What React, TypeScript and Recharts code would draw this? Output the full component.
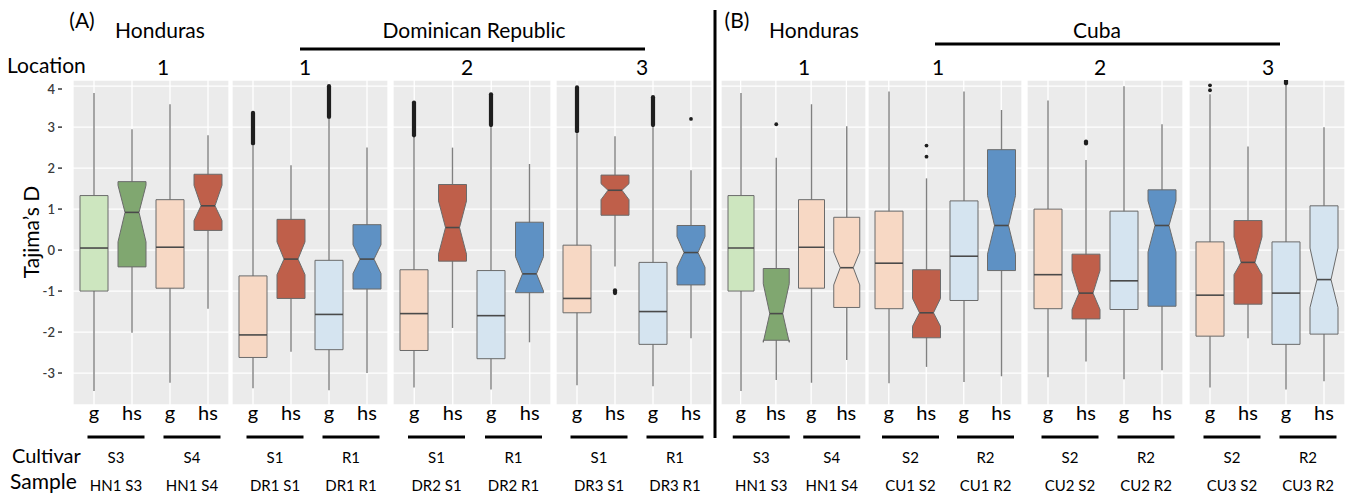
import React from "react";
import { ComposedChart, Bar, XAxis, YAxis, CartesianGrid } from "recharts";

type Box = {
  key: string;
  low: number;
  q1: number;
  med: number;
  q3: number;
  high: number;
  notch?: [number, number];
  out?: [number, number][];
};

const Y_TICKS = [-3, -2, -1, 0, 1, 2, 3, 4];
const Y_DOMAIN: [number, number] = [-3.78, 4.15];
const TREATMENTS = ["g", "hs", "g", "hs"];
const LOCATIONS = ["1", "1", "2", "3", "1", "1", "2", "3"];
const CULTIVARS = [
  ["S3", "S4"], ["S1", "R1"], ["S1", "R1"], ["S1", "R1"],
  ["S3", "S4"], ["S2", "R2"], ["S2", "R2"], ["S2", "R2"],
];
const SAMPLES = [
  ["HN1 S3", "HN1 S4"], ["DR1 S1", "DR1 R1"], ["DR2 S1", "DR2 R1"], ["DR3 S1", "DR3 R1"],
  ["HN1 S3", "HN1 S4"], ["CU1 S2", "CU1 R2"], ["CU2 S2", "CU2 R2"], ["CU3 S2", "CU3 R2"],
];

const hondurasA: Box[] = [
  { key: "HN1 S3 g", low: -3.44, q1: -1.0, med: 0.05, q3: 1.33, high: 3.83 },
  { key: "HN1 S3 hs", low: -2.02, q1: -0.41, med: 0.92, q3: 1.67, high: 2.95, notch: [0.2, 1.58] },
  { key: "HN1 S4 g", low: -3.24, q1: -0.93, med: 0.07, q3: 1.23, high: 3.56 },
  { key: "HN1 S4 hs", low: -1.43, q1: 0.48, med: 1.08, q3: 1.85, high: 2.8, notch: [0.72, 1.58] },
];
const dominican1: Box[] = [
  { key: "DR1 S1 g", low: -3.37, q1: -2.62, med: -2.07, q3: -0.63, high: 2.55, out: [[2.6, 3.35]] },
  { key: "DR1 S1 hs", low: -2.48, q1: -1.18, med: -0.22, q3: 0.75, high: 2.07, notch: [-0.6, 0.2] },
  { key: "DR1 R1 g", low: -3.42, q1: -2.43, med: -1.57, q3: -0.25, high: 3.2, out: [[3.25, 4.0]] },
  { key: "DR1 R1 hs", low: -3.0, q1: -0.95, med: -0.22, q3: 0.62, high: 2.5, notch: [-0.57, 0.13] },
];
const dominican2: Box[] = [
  { key: "DR2 S1 g", low: -3.35, q1: -2.45, med: -1.55, q3: -0.48, high: 2.77, out: [[2.8, 3.6]] },
  { key: "DR2 S1 hs", low: -1.9, q1: -0.27, med: 0.55, q3: 1.6, high: 2.5, notch: [-0.1, 1.2] },
  { key: "DR2 R1 g", low: -3.4, q1: -2.65, med: -1.6, q3: -0.5, high: 3.0, out: [[3.05, 3.8]] },
  { key: "DR2 R1 hs", low: -2.25, q1: -1.04, med: -0.58, q3: 0.68, high: 2.1, notch: [-1.0, -0.16] },
];
const dominican3: Box[] = [
  { key: "DR3 S1 g", low: -3.3, q1: -1.53, med: -1.18, q3: 0.12, high: 2.85, out: [[2.9, 3.97]] },
  { key: "DR3 S1 hs", low: -0.4, q1: 0.85, med: 1.46, q3: 1.83, high: 2.78, notch: [1.23, 1.62], out: [[-0.98, -1.05]] },
  { key: "DR3 R1 g", low: -3.32, q1: -2.3, med: -1.5, q3: -0.3, high: 3.0, out: [[3.05, 3.73]] },
  { key: "DR3 R1 hs", low: -2.15, q1: -0.85, med: -0.06, q3: 0.6, high: 1.95, notch: [-0.42, 0.33], out: [[3.2, 3.2]] },
];
const hondurasB: Box[] = [
  { key: "HN1 S3 g", low: -3.44, q1: -1.0, med: 0.05, q3: 1.33, high: 3.83 },
  { key: "HN1 S3 hs", low: -3.17, q1: -2.2, med: -1.55, q3: -0.45, high: 2.25, notch: [-2.25, -0.82], out: [[3.07, 3.07]] },
  { key: "HN1 S4 g", low: -3.24, q1: -0.93, med: 0.07, q3: 1.23, high: 3.56 },
  { key: "HN1 S4 hs", low: -2.68, q1: -1.4, med: -0.43, q3: 0.8, high: 3.02, notch: [-0.85, -0.05] },
];
const cuba1: Box[] = [
  { key: "CU1 S2 g", low: -3.25, q1: -1.43, med: -0.32, q3: 0.95, high: 3.87 },
  { key: "CU1 S2 hs", low: -2.85, q1: -2.14, med: -1.53, q3: -0.48, high: 1.75, notch: [-1.86, -1.18], out: [[2.28, 2.28], [2.55, 2.55]] },
  { key: "CU1 R2 g", low: -3.22, q1: -1.23, med: -0.15, q3: 1.2, high: 3.87 },
  { key: "CU1 R2 hs", low: -3.08, q1: -0.5, med: 0.6, q3: 2.45, high: 3.42, notch: [-0.1, 1.33] },
];
const cuba2: Box[] = [
  { key: "CU2 S2 g", low: -3.1, q1: -1.43, med: -0.6, q3: 1.0, high: 3.65 },
  { key: "CU2 S2 hs", low: -2.72, q1: -1.68, med: -1.05, q3: -0.1, high: 2.2, notch: [-1.45, -0.5], out: [[2.6, 2.65]] },
  { key: "CU2 R2 g", low: -3.15, q1: -1.45, med: -0.75, q3: 0.95, high: 4.0 },
  { key: "CU2 R2 hs", low: -2.93, q1: -1.37, med: 0.6, q3: 1.47, high: 3.07, notch: [-0.05, 1.2] },
];
const cuba3: Box[] = [
  { key: "CU3 S2 g", low: -3.35, q1: -2.1, med: -1.1, q3: 0.2, high: 3.8, out: [[3.9, 3.9], [4.02, 4.02]] },
  { key: "CU3 S2 hs", low: -2.15, q1: -1.32, med: -0.3, q3: 0.72, high: 2.53, notch: [-0.6, 0.32] },
  { key: "CU3 R2 g", low: -3.4, q1: -2.3, med: -1.05, q3: 0.2, high: 4.02, out: [[4.07, 4.13]] },
  { key: "CU3 R2 hs", low: -3.2, q1: -2.05, med: -0.72, q3: 1.08, high: 3.0, notch: [-1.4, 0.05] },
];

const PANEL_DATA = [hondurasA, dominican1, dominican2, dominican3, hondurasB, cuba1, cuba2, cuba3];

// colours
const LGREEN = "#cde6bf";
const DGREEN = "#80a770";
const PEACH = "#f7d8c4";
const RED = "#bf5f4a";
const LBLUE = "#d5e4f0";
const BLUE = "#5e91c4";
const PANEL_COLORS = [
  [LGREEN, DGREEN, PEACH, RED],
  [PEACH, RED, LBLUE, BLUE],
  [PEACH, RED, LBLUE, BLUE],
  [PEACH, RED, LBLUE, BLUE],
  [LGREEN, DGREEN, PEACH, PEACH],
  [PEACH, RED, LBLUE, BLUE],
  [PEACH, RED, LBLUE, BLUE],
  [PEACH, RED, LBLUE, LBLUE],
];

// layout (pixels)
const PANEL_LEFT = [73, 232, 393, 556, 721, 868, 1027, 1189];
const PANEL_WIDTH = [156, 156, 158, 156, 145, 154, 156, 156];
const LOCATION_X = [163, 305, 467, 642, 804, 938, 1100, 1268];
const PLOT_TOP = 80;
const PLOT_H = 325;
const AXIS_W = 40;
const PAD = 2;
const FONT = "Lato, 'Open Sans', sans-serif";

function BoxShape(props: any) {
  const { x, y, width, height, payload, color } = props;
  const b: Box = payload;
  const top = Math.min(y, y + height);
  const bot = Math.max(y, y + height);
  const py = (v: number) => top + ((b.high - v) / (b.high - b.low)) * (bot - top);
  const cx = x + width / 2;
  const x0 = x;
  const x1 = x + width;
  const ins = width * 0.25;
  const yq3 = py(b.q3);
  const yq1 = py(b.q1);
  const ym = py(b.med);
  let path: string;
  if (b.notch) {
    const nHi = py(b.notch[1]);
    const nLo = py(b.notch[0]);
    path = `M${x0},${yq3} L${x1},${yq3} L${x1},${nHi} L${x1 - ins},${ym} L${x1},${nLo} L${x1},${yq1} L${x0},${yq1} L${x0},${nLo} L${x0 + ins},${ym} L${x0},${nHi} Z`;
  } else {
    path = `M${x0},${yq3} L${x1},${yq3} L${x1},${yq1} L${x0},${yq1} Z`;
  }
  const mx0 = b.notch ? x0 + ins : x0;
  const mx1 = b.notch ? x1 - ins : x1;
  return (
    <g>
      <line x1={cx} x2={cx} y1={py(b.high)} y2={py(b.low)} stroke="#808080" strokeWidth={1.4} />
      <path d={path} fill={color} stroke="#6b6b6b" strokeWidth={1} />
      <line x1={mx0} x2={mx1} y1={ym} y2={ym} stroke="#4a4a4a" strokeWidth={1.6} />
      {(b.out || []).map((o, i) => {
        const ya = py(o[0]);
        const yb = py(o[1]);
        return o[0] === o[1] ? (
          <circle key={i} cx={cx} cy={ya} r={1.9} fill="#1e1e1e" />
        ) : (
          <line key={i} x1={cx} x2={cx} y1={ya} y2={yb} stroke="#1e1e1e" strokeWidth={4.2} strokeLinecap="round" />
        );
      })}
    </g>
  );
}

function YTick(props: any) {
  const { x, y, payload } = props;
  return (
    <g>
      <text x={x - 18} y={y} dy={4.5} textAnchor="end" fontSize={13} fontWeight={600} fill="#3a3a3a" fontFamily={FONT}>
        {payload.value}
      </text>
      <line x1={x - 15} x2={x - 11} y1={y} y2={y} stroke="#3a3a3a" strokeWidth={1.5} />
    </g>
  );
}

function XTick(props: any) {
  const { x, y, index } = props;
  return (
    <text x={x} y={y + 15} textAnchor="middle" fontSize={20} fill="#000" fontFamily={FONT}>
      {TREATMENTS[index]}
    </text>
  );
}

function Panel({ i }: { i: number }) {
  const first = i === 0;
  const w = PANEL_WIDTH[i] + (first ? AXIS_W : 0);
  const left = PANEL_LEFT[i] - (first ? AXIS_W : 0);
  const band = (PANEL_WIDTH[i] - 2 * PAD) / 4;
  const colors = PANEL_COLORS[i];
  return (
    <div style={{ position: "absolute", left, top: PLOT_TOP }}>
      <ComposedChart width={w} height={PLOT_H + 30} data={PANEL_DATA[i]} margin={{ top: 0, right: 0, bottom: 0, left: 0 }}>
        <CartesianGrid fill="#ebebeb" fillOpacity={1} stroke="#ffffff" strokeWidth={1.3} />
        <XAxis
          dataKey="key"
          type="category"
          height={30}
          padding={{ left: PAD, right: PAD }}
          tickLine={false}
          axisLine={false}
          tickSize={0}
          tickMargin={0}
          interval={0}
          tick={<XTick />}
        />
        <YAxis
          type="number"
          domain={Y_DOMAIN}
          ticks={Y_TICKS}
          allowDataOverflow
          hide={!first}
          width={AXIS_W}
          tickLine={false}
          axisLine={false}
          tickSize={0}
          tickMargin={0}
          tick={<YTick />}
        />
        <Bar
          dataKey={(d: Box) => [d.low, d.high]}
          barSize={Math.round(band * 0.74)}
          isAnimationActive={false}
          shape={(p: any) => <BoxShape {...p} color={colors[p.index]} />}
        />
      </ComposedChart>
    </div>
  );
}

export default function App() {
  const pairs: { cx: number; cult: string; samp: string }[] = [];
  PANEL_LEFT.forEach((L, i) => {
    const band = (PANEL_WIDTH[i] - 2 * PAD) / 4;
    pairs.push({ cx: L + PAD + band + 3, cult: CULTIVARS[i][0], samp: SAMPLES[i][0] });
    pairs.push({ cx: L + PAD + 3 * band + 3, cult: CULTIVARS[i][1], samp: SAMPLES[i][1] });
  });
  return (
    <div style={{ position: "absolute", left: 0, top: 0, width: 1357, height: 494, background: "#fff", overflow: "hidden", fontFamily: FONT }}>
      {PANEL_DATA.map((_, i) => (
        <Panel key={i} i={i} />
      ))}
      <svg width={1357} height={494} style={{ position: "absolute", left: 0, top: 0, pointerEvents: "none" }} fontFamily={FONT}>
        <text x={82} y={28} fontSize={21} textAnchor="middle">(A)</text>
        <text x={160} y={38} fontSize={21} textAnchor="middle">Honduras</text>
        <text x={474} y={38} fontSize={21} textAnchor="middle">Dominican Republic</text>
        <line x1={300} x2={645} y1={49} y2={49} stroke="#000" strokeWidth={3} />
        <text x={737} y={28} fontSize={21} textAnchor="middle">(B)</text>
        <text x={814} y={38} fontSize={21} textAnchor="middle">Honduras</text>
        <text x={1097} y={38} fontSize={21} textAnchor="middle">Cuba</text>
        <line x1={935} x2={1280} y1={44} y2={44} stroke="#000" strokeWidth={3} />
        <line x1={715} x2={715} y1={10} y2={438} stroke="#000" strokeWidth={3} />
        <text x={7} y={73} fontSize={21}>Location</text>
        {LOCATIONS.map((l, i) => (
          <text key={i} x={LOCATION_X[i]} y={75} fontSize={21} textAnchor="middle">{l}</text>
        ))}
        <text x={30} y={232} fontSize={21} textAnchor="middle" dominantBaseline="central" transform="rotate(-90 30 232)">
          Tajima’s D
        </text>
        <text x={12} y={463} fontSize={20}>Cultivar</text>
        <text x={10} y={489} fontSize={21}>Sample</text>
        {pairs.map((p, k) => (
          <g key={k}>
            <line x1={p.cx - 28.5} x2={p.cx + 28.5} y1={437} y2={437} stroke="#000" strokeWidth={3} />
            <text x={p.cx} y={463} fontSize={15} textAnchor="middle">{p.cult}</text>
            <text x={p.cx} y={491} fontSize={15} textAnchor="middle">{p.samp}</text>
          </g>
        ))}
      </svg>
    </div>
  );
}
